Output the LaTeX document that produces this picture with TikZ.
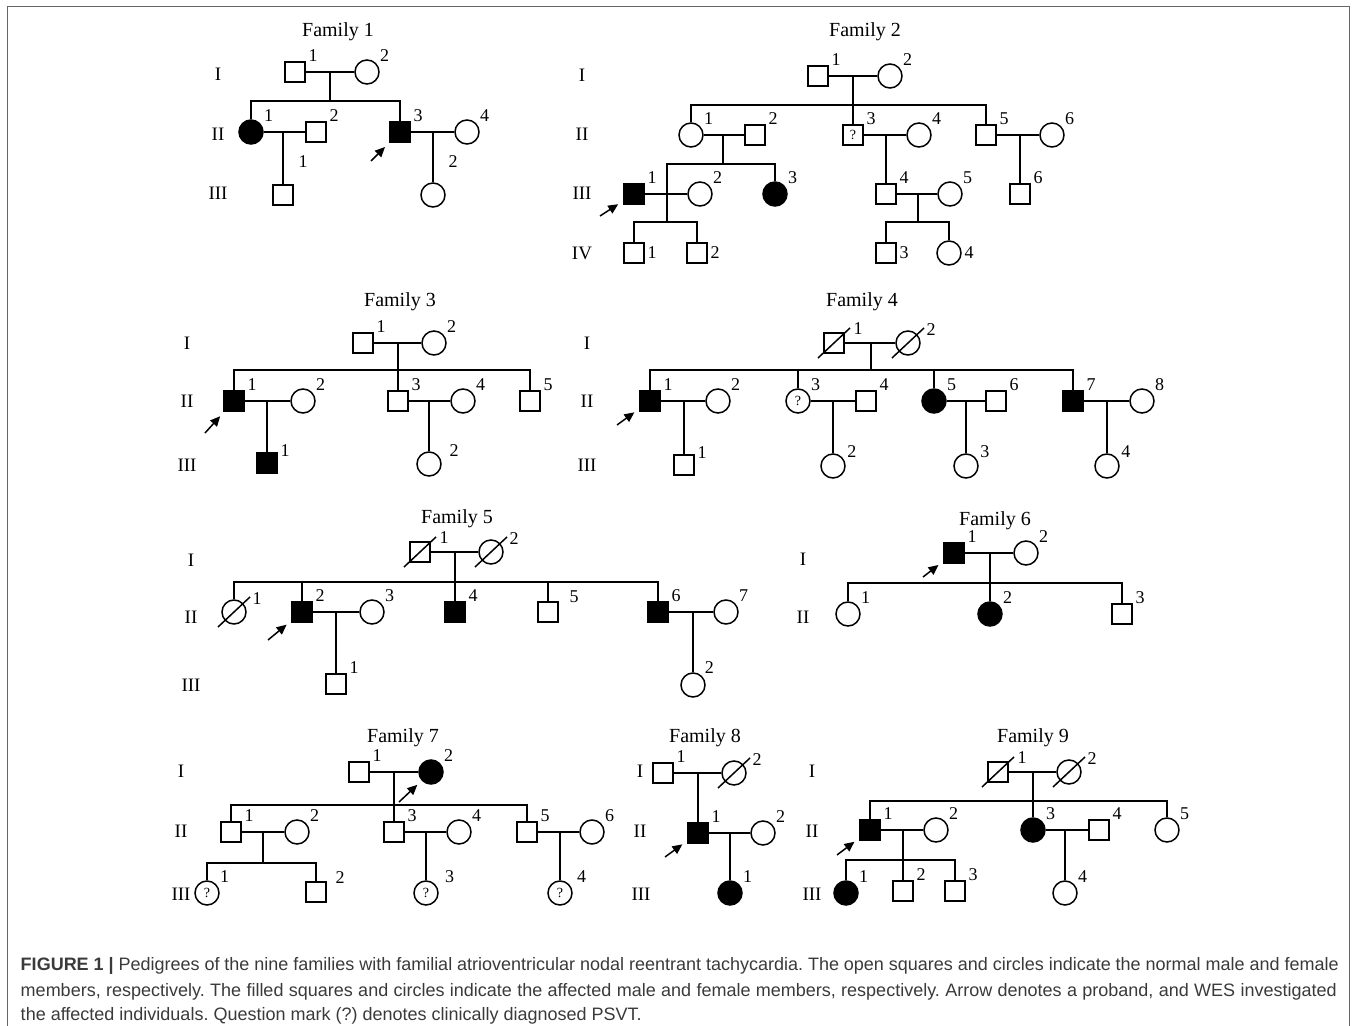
\documentclass[tikz,border=0pt]{standalone}
\usepackage{fontspec}
\setmainfont{Liberation Serif}
\newfontfamily\capfont{Liberation Sans}
\usetikzlibrary{arrows.meta}
\definecolor{capgray}{HTML}{3A3A3A}
\definecolor{framegray}{HTML}{666666}
\newcommand{\deceased}[1]{\draw (#1.center) ++(-8pt,-7.5pt) -- ++(16pt,15pt);}

\begin{document}
\begin{tikzpicture}[x=0.5pt, y=-0.5pt, line width=0.75pt,
  male/.style={draw, rectangle, minimum size=10pt, inner sep=0pt},
  female/.style={draw, circle, minimum size=12pt, inner sep=0pt},
  sick/.style={fill=black},
  qm/.style={font=\fontsize{7}{7}\selectfont},
  every label/.style={font=\fontsize{9}{9}\selectfont, inner sep=1pt},
  dlab/.style={label={[xshift=3pt, yshift=-1.5pt]40:#1}},
  famtitle/.style={font=\fontsize{10}{12}\selectfont},
  gen/.style={font=\fontsize{9.5}{11}\selectfont},
  numtag/.style={font=\fontsize{9}{9}\selectfont, inner sep=1pt},
  proband/.style={-{Triangle[length=5pt,width=4.5pt]}, shorten >=3pt},
  capline/.style={anchor=west, inner sep=0pt, text=capgray,
    font=\capfont\fontsize{9}{9}\selectfont\frenchspacing}]
  \useasboundingbox (0,0) rectangle (1357,1026);
  \draw[framegray] (7.5,1026) -- (7.5,6.5) -- (1349.5,6.5) -- (1349.5,1026);

  % Family 1
  \node[famtitle] (f1t) at (338,32) {Family 1};
  \node[gen] (f1g1) at (218,74) {I};
  \node[gen] (f1g2) at (218,134) {II};
  \node[gen] (f1g3) at (218,193) {III};
  \node[male, label=35:1] (f1i1) at (295,72) {};
  \node[female, label=35:2] (f1i2) at (367,72) {};
  \coordinate (f1m1) at (330,72);
  \coordinate (f1s1) at (330,101);
  \node[female, sick, label=35:1] (f1ii1) at (251,132) {};
  \node[male, label=35:2] (f1ii2) at (316,132) {};
  \node[male, sick, label=35:3] (f1ii3) at (400,132) {};
  \node[female, label=35:4] (f1ii4) at (467,132) {};
  \coordinate (f1m2) at (283,132);
  \coordinate (f1m3) at (433,132);
  \node[male] (f1iii1) at (283,195) {};
  \node[female] (f1iii2) at (433,195) {};
  \node[numtag] (f1n1) at (303,162) {1};
  \node[numtag] (f1n2) at (453,162) {2};
  \draw (f1i1) -- (f1i2);
  \draw (f1m1) -- (f1s1);
  \draw (f1ii1) |- (f1s1) -| (f1ii3);
  \draw (f1ii1) -- (f1ii2);
  \draw (f1ii3) -- (f1ii4);
  \draw (f1m2) -- (f1iii1);
  \draw (f1m3) -- (f1iii2);
  \coordinate (f1a) at (371,161);
  \draw[proband] (f1a) -- (f1ii3);

  % Family 2
  \node[famtitle] (f2t) at (865,32) {Family 2};
  \node[gen] (f2g1) at (582,75) {I};
  \node[gen] (f2g2) at (582,134) {II};
  \node[gen] (f2g3) at (582,193) {III};
  \node[gen] (f2g4) at (582,253) {IV};
  \node[male, label=35:1] (f2i1) at (818,76) {};
  \node[female, label=35:2] (f2i2) at (890,76) {};
  \coordinate (f2m1) at (853,76);
  \coordinate (f2s1) at (853,105);
  \node[female, label=35:1] (f2ii1) at (691,135) {};
  \node[male, label=35:2] (f2ii2) at (755,135) {};
  \node[male, qm, label=35:3] (f2ii3) at (853,135) {?};
  \node[female, label=35:4] (f2ii4) at (919,135) {};
  \node[male, label=35:5] (f2ii5) at (986,135) {};
  \node[female, label=35:6] (f2ii6) at (1052,135) {};
  \coordinate (f2m2) at (723,135);
  \coordinate (f2s2) at (723,164);
  \coordinate (f2m3) at (886,135);
  \coordinate (f2m4) at (1020,135);
  \node[male, sick, label=35:1] (f2iii1) at (634,194) {};
  \node[female, label=35:2] (f2iii2) at (700,194) {};
  \node[female, sick, label=35:3] (f2iii3) at (775,194) {};
  \node[male, label=35:4] (f2iii4) at (886,194) {};
  \node[female, label=35:5] (f2iii5) at (950,194) {};
  \node[male, label=35:6] (f2iii6) at (1020,194) {};
  \coordinate (f2s4) at (667,222);
  \coordinate (f2m5) at (918,194);
  \coordinate (f2s5) at (918,222);
  \node[male, label=0:1] (f2iv1) at (634,253) {};
  \node[male, label=0:2] (f2iv2) at (697,253) {};
  \node[male, label=0:3] (f2iv3) at (886,253) {};
  \node[female, label=0:4] (f2iv4) at (949,253) {};
  \draw (f2i1) -- (f2i2);
  \draw (f2m1) -- (f2ii3);
  \draw (f2ii1) |- (f2s1) -| (f2ii5);
  \draw (f2ii1) -- (f2ii2);
  \draw (f2ii3) -- (f2ii4);
  \draw (f2ii5) -- (f2ii6);
  \draw (f2m2) -- (f2s2);
  \draw (f2s4) |- (f2s2) -| (f2iii3);
  \draw (f2m3) -- (f2iii4);
  \draw (f2m4) -- (f2iii6);
  \draw (f2iii1) -- (f2iii2);
  \draw (f2iii4) -- (f2iii5);
  \draw (f2m5) -- (f2s5);
  \draw (f2iv1) |- (f2s4) -| (f2iv2);
  \draw (f2iv3) |- (f2s5) -| (f2iv4);
  \coordinate (f2a) at (600,216);
  \draw[proband] (f2a) -- (f2iii1);

  % Family 3
  \node[famtitle] (f3t) at (400,302) {Family 3};
  \node[gen] (f3g1) at (187,343) {I};
  \node[gen] (f3g2) at (187,401) {II};
  \node[gen] (f3g3) at (187,465) {III};
  \node[male, label=35:1] (f3i1) at (363,343) {};
  \node[female, label=35:2] (f3i2) at (434,343) {};
  \coordinate (f3m1) at (398,343);
  \coordinate (f3s1) at (398,370);
  \node[male, sick, label=35:1] (f3ii1) at (234,401) {};
  \node[female, label=35:2] (f3ii2) at (303,401) {};
  \node[male, label=35:3] (f3ii3) at (398,401) {};
  \node[female, label=35:4] (f3ii4) at (463,401) {};
  \node[male, label=35:5] (f3ii5) at (530,401) {};
  \coordinate (f3m2) at (267,401);
  \coordinate (f3m3) at (429,401);
  \node[male, sick, label=20:1] (f3iii1) at (267,463) {};
  \node[female, label={[xshift=3pt]20:2}] (f3iii2) at (429,464) {};
  \draw (f3i1) -- (f3i2);
  \draw (f3m1) -- (f3ii3);
  \draw (f3ii1) |- (f3s1) -| (f3ii5);
  \draw (f3ii1) -- (f3ii2);
  \draw (f3ii3) -- (f3ii4);
  \draw (f3m2) -- (f3iii1);
  \draw (f3m3) -- (f3iii2);
  \coordinate (f3a) at (205,433);
  \draw[proband] (f3a) -- (f3ii1);

  % Family 4
  \node[famtitle] (f4t) at (862,302) {Family 4};
  \node[gen] (f4g1) at (587,343) {I};
  \node[gen] (f4g2) at (587,401) {II};
  \node[gen] (f4g3) at (587,465) {III};
  \node[male, dlab=1] (f4i1) at (834,343) {};
  \node[female, dlab=2] (f4i2) at (908,343) {};
  \deceased{f4i1}
  \deceased{f4i2}
  \coordinate (f4m1) at (871,343);
  \coordinate (f4s1) at (871,370);
  \node[male, sick, label=35:1] (f4ii1) at (650,401) {};
  \node[female, label=35:2] (f4ii2) at (718,401) {};
  \node[female, qm, label=35:3] (f4ii3) at (798,401) {?};
  \node[male, label=35:4] (f4ii4) at (866,401) {};
  \node[female, sick, label=35:5] (f4ii5) at (934,401) {};
  \node[male, label=35:6] (f4ii6) at (996,401) {};
  \node[male, sick, label=35:7] (f4ii7) at (1073,401) {};
  \node[female, label=35:8] (f4ii8) at (1142,401) {};
  \coordinate (f4m2) at (684,401);
  \coordinate (f4m3) at (833,401);
  \coordinate (f4m4) at (966,401);
  \coordinate (f4m5) at (1107,401);
  \node[male, label=20:1] (f4iii1) at (684,465) {};
  \node[female, label=25:2] (f4iii2) at (833,466) {};
  \node[female, label=25:3] (f4iii3) at (966,466) {};
  \node[female, label=25:4] (f4iii4) at (1107,466) {};
  \draw (f4i1) -- (f4i2);
  \draw (f4m1) -- (f4s1);
  \draw (f4ii1) |- (f4s1) -| (f4ii7);
  \draw (f4ii3) -- (f4ii3 |- f4s1);
  \draw (f4ii5) -- (f4ii5 |- f4s1);
  \draw (f4ii1) -- (f4ii2);
  \draw (f4ii3) -- (f4ii4);
  \draw (f4ii5) -- (f4ii6);
  \draw (f4ii7) -- (f4ii8);
  \draw (f4m2) -- (f4iii1);
  \draw (f4m3) -- (f4iii2);
  \draw (f4m4) -- (f4iii3);
  \draw (f4m5) -- (f4iii4);
  \coordinate (f4a) at (617,425);
  \draw[proband] (f4a) -- (f4ii1);

  % Family 5
  \node[famtitle] (f5t) at (457,519) {Family 5};
  \node[gen] (f5g1) at (191,560) {I};
  \node[gen] (f5g2) at (191,617) {II};
  \node[gen] (f5g3) at (191,685) {III};
  \node[male, dlab=1] (f5i1) at (420,552) {};
  \node[female, dlab=2] (f5i2) at (491,552) {};
  \deceased{f5i1}
  \deceased{f5i2}
  \coordinate (f5m1) at (455,552);
  \coordinate (f5s1) at (455,582);
  \node[female, dlab=1] (f5ii1) at (234,612) {};
  \deceased{f5ii1}
  \node[male, sick, label=35:2] (f5ii2) at (302,612) {};
  \node[female, label=35:3] (f5ii3) at (372,612) {};
  \node[male, sick, label=35:4] (f5ii4) at (455,612) {};
  \node[male, label={[xshift=4pt]30:5}] (f5ii5) at (548,612) {};
  \node[male, sick, label=35:6] (f5ii6) at (658,612) {};
  \node[female, label=35:7] (f5ii7) at (726,612) {};
  \coordinate (f5m2) at (336,612);
  \coordinate (f5m3) at (693,612);
  \node[male, label=35:1] (f5iii1) at (336,684) {};
  \node[female, label=45:2] (f5iii2) at (693,685) {};
  \draw (f5i1) -- (f5i2);
  \draw (f5m1) -- (f5ii4);
  \draw (f5ii1) |- (f5s1) -| (f5ii6);
  \draw (f5ii2) -- (f5ii2 |- f5s1);
  \draw (f5ii5) -- (f5ii5 |- f5s1);
  \draw (f5ii2) -- (f5ii3);
  \draw (f5ii6) -- (f5ii7);
  \draw (f5m2) -- (f5iii1);
  \draw (f5m3) -- (f5iii2);
  \coordinate (f5a) at (268,640);
  \draw[proband] (f5a) -- (f5ii2);

  % Family 6
  \node[famtitle] (f6t) at (995,521) {Family 6};
  \node[gen] (f6g1) at (803,559) {I};
  \node[gen] (f6g2) at (803,617) {II};
  \node[male, sick, label=35:1] (f6i1) at (954,553) {};
  \node[female, label=35:2] (f6i2) at (1026,553) {};
  \coordinate (f6m1) at (990,553);
  \coordinate (f6s1) at (990,583);
  \node[female, label=35:1] (f6ii1) at (848,614) {};
  \node[female, sick, label=35:2] (f6ii2) at (990,614) {};
  \node[male, label=35:3] (f6ii3) at (1122,614) {};
  \draw (f6i1) -- (f6i2);
  \draw (f6m1) -- (f6ii2);
  \draw (f6ii1) |- (f6s1) -| (f6ii3);
  \coordinate (f6a) at (923,577);
  \draw[proband] (f6a) -- (f6i1);

  % Family 7
  \node[famtitle] (f7t) at (403,738) {Family 7};
  \node[gen] (f7g1) at (181,771) {I};
  \node[gen] (f7g2) at (181,831) {II};
  \node[gen] (f7g3) at (181,894) {III};
  \node[male, label=35:1] (f7i1) at (359,772) {};
  \node[female, sick, label=35:2] (f7i2) at (431,772) {};
  \coordinate (f7m1) at (394,772);
  \coordinate (f7s1) at (394,805);
  \node[male, label=35:1] (f7ii1) at (231,832) {};
  \node[female, label=35:2] (f7ii2) at (297,832) {};
  \node[male, label=35:3] (f7ii3) at (394,832) {};
  \node[female, label=35:4] (f7ii4) at (459,832) {};
  \node[male, label=35:5] (f7ii5) at (527,832) {};
  \node[female, label=35:6] (f7ii6) at (592,832) {};
  \coordinate (f7m2) at (263,832);
  \coordinate (f7s2) at (263,863);
  \coordinate (f7m3) at (426,832);
  \coordinate (f7m4) at (560,832);
  \node[female, qm, label=35:1] (f7iii1) at (207,893) {?};
  \node[male, label={[xshift=3pt]30:2}] (f7iii2) at (316,892) {};
  \node[female, qm, label={[xshift=3pt]35:3}] (f7iii3) at (426,893) {?};
  \node[female, qm, label={[xshift=2pt]35:4}] (f7iii4) at (560,893) {?};
  \draw (f7i1) -- (f7i2);
  \draw (f7m1) -- (f7ii3);
  \draw (f7ii1) |- (f7s1) -| (f7ii5);
  \draw (f7ii1) -- (f7ii2);
  \draw (f7ii3) -- (f7ii4);
  \draw (f7ii5) -- (f7ii6);
  \draw (f7m2) -- (f7s2);
  \draw (f7iii1) |- (f7s2) -| (f7iii2);
  \draw (f7m3) -- (f7iii3);
  \draw (f7m4) -- (f7iii4);
  \coordinate (f7a) at (399,802);
  \draw[proband] (f7a) -- (f7i2);

  % Family 8
  \node[famtitle] (f8t) at (705,738) {Family 8};
  \node[gen] (f8g1) at (640,771) {I};
  \node[gen] (f8g2) at (640,831) {II};
  \node[gen] (f8g3) at (641,894) {III};
  \node[male, label=35:1] (f8i1) at (663,773) {};
  \node[female, dlab=2] (f8i2) at (734,773) {};
  \deceased{f8i2}
  \coordinate (f8m1) at (698,773);
  \node[male, sick, label=35:1] (f8ii1) at (698,833) {};
  \node[female, label=35:2] (f8ii2) at (763,833) {};
  \coordinate (f8m2) at (730,833);
  \node[female, sick, label=35:1] (f8iii1) at (730,893) {};
  \draw (f8i1) -- (f8i2);
  \draw (f8m1) -- (f8ii1);
  \draw (f8ii1) -- (f8ii2);
  \draw (f8m2) -- (f8iii1);
  \coordinate (f8a) at (665,857);
  \draw[proband] (f8a) -- (f8ii1);

  % Family 9
  \node[famtitle] (f9t) at (1033,738) {Family 9};
  \node[gen] (f9g1) at (812,771) {I};
  \node[gen] (f9g2) at (812,831) {II};
  \node[gen] (f9g3) at (812,894) {III};
  \node[male, dlab=1] (f9i1) at (998,772) {};
  \node[female, dlab=2] (f9i2) at (1069,772) {};
  \deceased{f9i1}
  \deceased{f9i2}
  \coordinate (f9m1) at (1033,772);
  \coordinate (f9s1) at (1033,801);
  \node[male, sick, label=35:1] (f9ii1) at (870,830) {};
  \node[female, label=35:2] (f9ii2) at (936,830) {};
  \node[female, sick, label=35:3] (f9ii3) at (1033,830) {};
  \node[male, label=35:4] (f9ii4) at (1099,830) {};
  \node[female, label=35:5] (f9ii5) at (1167,830) {};
  \coordinate (f9m2) at (903,830);
  \coordinate (f9s2) at (903,860);
  \coordinate (f9m3) at (1065,830);
  \node[female, sick, label=35:1] (f9iii1) at (846,893) {};
  \node[male, label=35:2] (f9iii2) at (903,891) {};
  \node[male, label=35:3] (f9iii3) at (955,891) {};
  \node[female, label=35:4] (f9iii4) at (1065,893) {};
  \draw (f9i1) -- (f9i2);
  \draw (f9m1) -- (f9ii3);
  \draw (f9ii1) |- (f9s1) -| (f9ii5);
  \draw (f9ii1) -- (f9ii2);
  \draw (f9ii3) -- (f9ii4);
  \draw (f9m2) -- (f9iii2);
  \draw (f9iii1) |- (f9s2) -| (f9iii3);
  \draw (f9m3) -- (f9iii4);
  \coordinate (f9a) at (837,855);
  \draw[proband] (f9a) -- (f9ii1);

  % caption
  \node[capline] (cap1) at (20,966) {\makebox[659pt][s]{\textbf{FIGURE 1 |} Pedigrees of the nine families with familial atrioventricular nodal reentrant tachycardia. The open squares and circles indicate the normal male and female}};
  \node[capline] (cap2) at (20,992) {\makebox[658pt][s]{members, respectively. The filled squares and circles indicate the affected male and female members, respectively. Arrow denotes a proband, and WES investigated}};
  \node[capline] (cap3) at (20,1016) {the affected individuals. Question mark (?) denotes clinically diagnosed PSVT.};
\end{tikzpicture}
\end{document}
